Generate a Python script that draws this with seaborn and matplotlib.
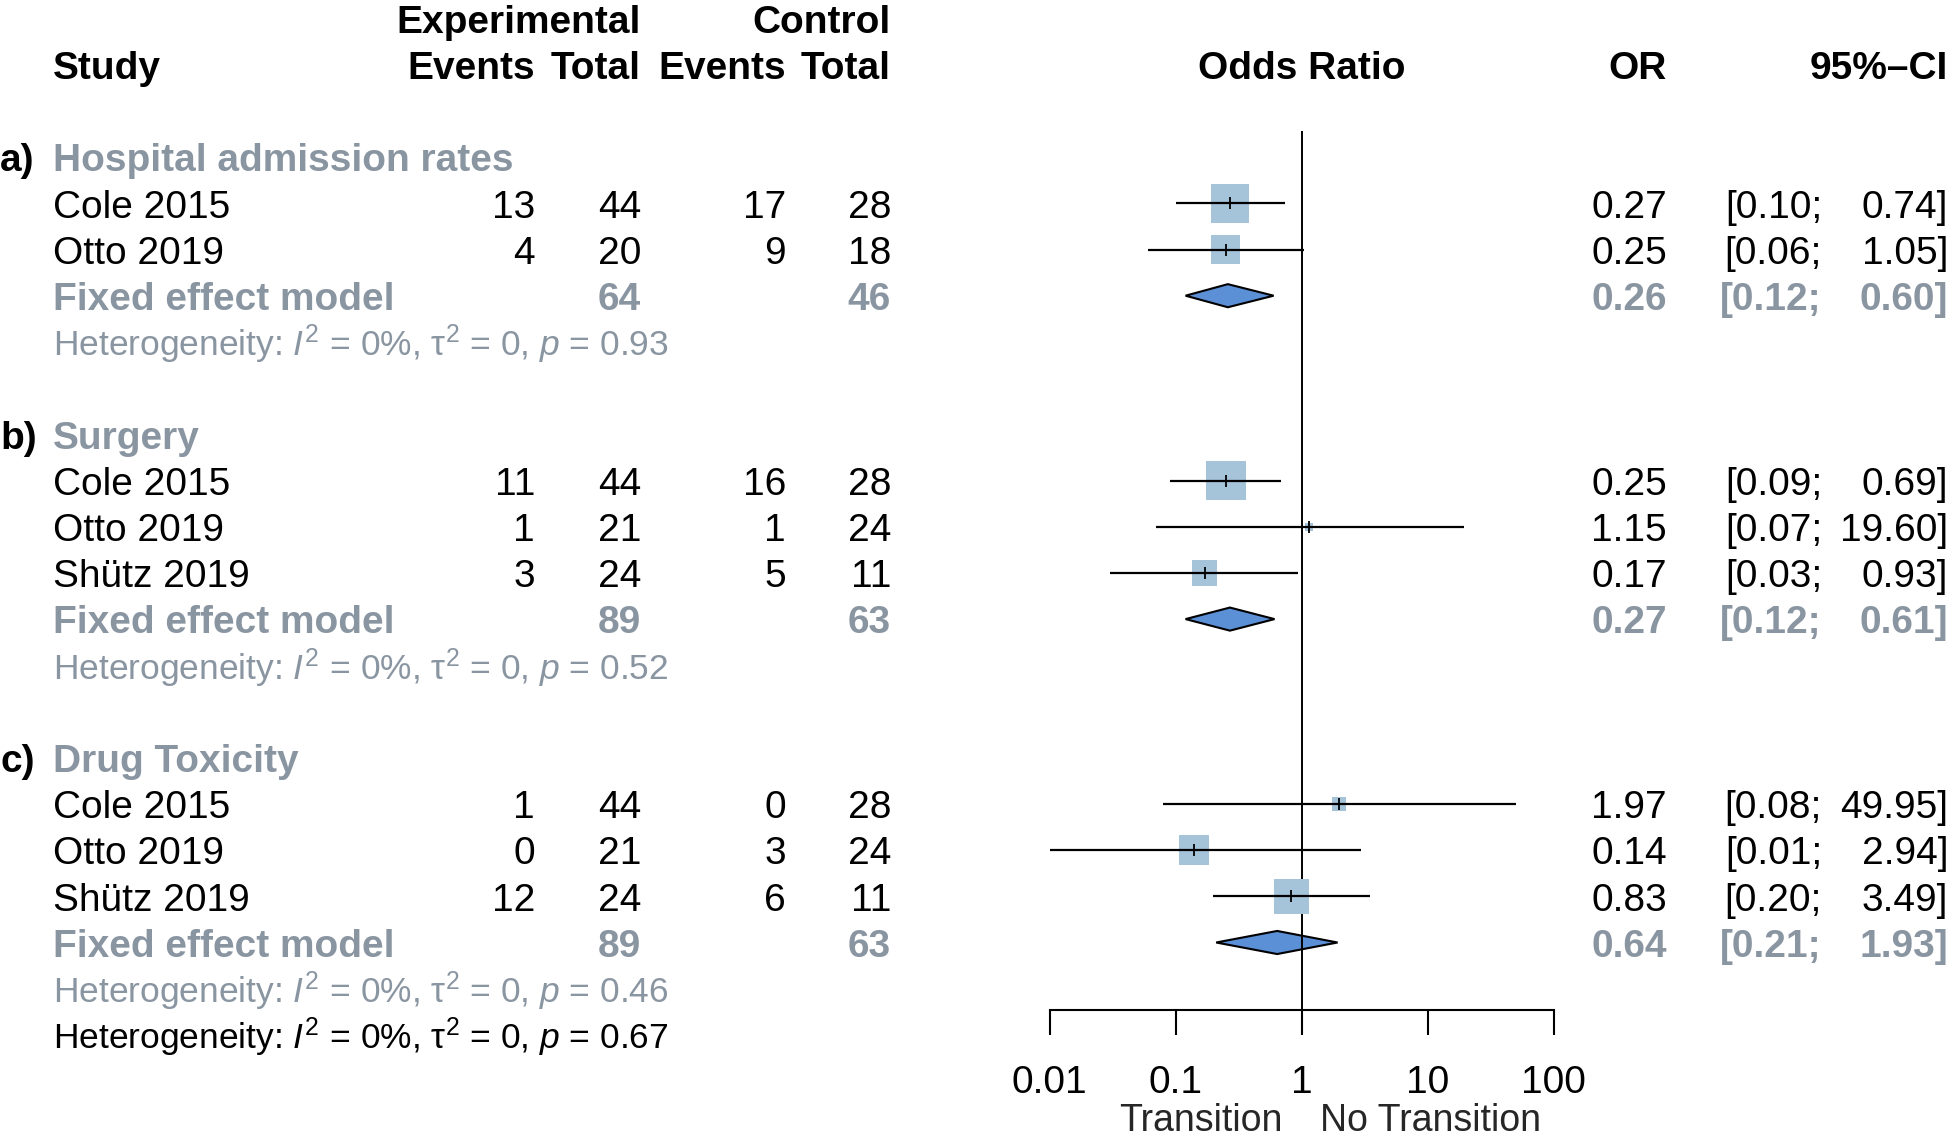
import numpy as np
import matplotlib
matplotlib.use('Agg')
import matplotlib.pyplot as plt
import seaborn as sns

# study level data
study_group = [0, 0, 1, 1, 1, 2, 2, 2]
study_label = ['Cole 2015', 'Otto 2019',
               'Cole 2015', 'Otto 2019', 'Shütz 2019',
               'Cole 2015', 'Otto 2019', 'Shütz 2019']
exp_events = [13, 4, 11, 1, 3, 1, 0, 12]
exp_total = [44, 20, 44, 21, 24, 44, 21, 24]
ctrl_events = [17, 9, 16, 1, 5, 0, 3, 6]
ctrl_total = [28, 18, 28, 24, 11, 28, 24, 11]
odds_ratio = [0.27, 0.25, 0.25, 1.15, 0.17, 1.97, 0.14, 0.83]
ci_low = [0.10, 0.06, 0.09, 0.07, 0.03, 0.08, 0.0068, 0.20]
ci_high = [0.74, 1.05, 0.69, 19.60, 0.93, 49.95, 2.94, 3.49]
weight = [64.9, 35.1, 69.4, 2.8, 27.8, 8.3, 39.6, 52.1]  # % within subgroup (approx)

# subgroup data
group_tag = ['a)', 'b)', 'c)']
group_name = ['Hospital admission rates', 'Surgery', 'Drug Toxicity']
pooled_exp_total = [64, 89, 89]
pooled_ctrl_total = [46, 63, 63]
pooled_or = [0.26, 0.27, 0.64]
pooled_low = [0.12, 0.12, 0.21]
pooled_high = [0.60, 0.61, 1.93]
het_p = ['0.93', '0.52', '0.46']
overall_het_p = '0.67'

axis_ticks = [0.01, 0.1, 1, 10, 100]
axis_ticklabels = ['0.01', '0.1', '1', '10', '100']
label_left = 'Transition'
label_right = 'No Transition'

# styling
FONT = ['Liberation Sans', 'DejaVu Sans']
GRAY = '#8A95A2'
SQUARE = '#A5C3D9'
DIAMOND = '#5B8FD6'
FS = 28
FS_SMALL = 25.5
BASE = 0.31          # baseline offset of a text row (in rows)

sns.set_theme(style='white')
plt.rcParams['font.family'] = FONT
plt.rcParams['mathtext.fontset'] = 'custom'
plt.rcParams['mathtext.rm'] = 'Liberation Sans'
plt.rcParams['mathtext.it'] = 'Liberation Sans:italic'
plt.rcParams['mathtext.bf'] = 'Liberation Sans:bold'

W, H = 1952, 1140
ROW0_PX, ROW_PX = 64.7, 46.2
y_top = -ROW0_PX / ROW_PX
y_bot = (H - ROW0_PX) / ROW_PX

fig = plt.figure(figsize=(W / 100, H / 100), dpi=100)
ax = fig.add_axes([0, 0, 1, 1])
ax.set_xlim(0, W)
ax.set_ylim(y_bot, y_top)
ax.axis('off')

# forest panel: log scale from 0.01 to 100
fx0, fx1 = 1049.5, 1553.7
axf = fig.add_axes([fx0 / W, 0, (fx1 - fx0) / W, 1])
axf.patch.set_visible(False)
axf.set_xscale('log')
axf.set_xlim(0.01, 100)
axf.set_ylim(y_bot, y_top)


def txt(x, row, s, ha='left', bold=False, color='black', size=FS, target=None):
    (target or ax).text(x, row + BASE, s, ha=ha, va='baseline', fontsize=size,
                        fontweight='bold' if bold else 'normal', color=color)


# column positions (px)
X_STUDY, X_EE, X_ET, X_CE, X_CT = 53, 535, 641, 786, 891
X_OR, X_LO, X_HI = 1667, 1822, 1948

# header
txt(X_ET, -1, 'Experimental', ha='right', bold=True)
txt(X_CT, -1, 'Control', ha='right', bold=True)
txt(X_STUDY, 0, 'Study', bold=True)
txt(X_EE, 0, 'Events', ha='right', bold=True)
txt(X_ET, 0, 'Total', ha='right', bold=True)
txt(X_CE, 0, 'Events', ha='right', bold=True)
txt(X_CT, 0, 'Total', ha='right', bold=True)
txt(1, 0, 'Odds Ratio', ha='center', bold=True, target=axf)
txt(X_OR, 0, 'OR', ha='right', bold=True)
txt(X_HI, 0, '95%–CI', ha='right', bold=True)

# lay out rows
study_rows = []
pooled_rows = []
row = 2
for g in range(len(group_name)):
    txt(0, row, group_tag[g], bold=True)
    txt(X_STUDY, row, group_name[g], bold=True, color=GRAY)
    row += 1
    for i in [k for k in range(len(study_label)) if study_group[k] == g]:
        study_rows.append(row)
        txt(X_STUDY, row, study_label[i])
        txt(X_EE, row, str(exp_events[i]), ha='right')
        txt(X_ET, row, str(exp_total[i]), ha='right')
        txt(X_CE, row, str(ctrl_events[i]), ha='right')
        txt(X_CT, row, str(ctrl_total[i]), ha='right')
        txt(X_OR, row, f'{odds_ratio[i]:.2f}', ha='right')
        txt(X_LO, row, f'[{ci_low[i]:.2f};', ha='right')
        txt(X_HI, row, f'{ci_high[i]:.2f}]', ha='right')
        row += 1
    pooled_rows.append(row)
    txt(X_STUDY, row, 'Fixed effect model', bold=True, color=GRAY)
    txt(X_ET, row, str(pooled_exp_total[g]), ha='right', bold=True, color=GRAY)
    txt(X_CT, row, str(pooled_ctrl_total[g]), ha='right', bold=True, color=GRAY)
    txt(X_OR, row, f'{pooled_or[g]:.2f}', ha='right', bold=True, color=GRAY)
    txt(X_LO, row, f'[{pooled_low[g]:.2f};', ha='right', bold=True, color=GRAY)
    txt(X_HI, row, f'{pooled_high[g]:.2f}]', ha='right', bold=True, color=GRAY)
    row += 1
    txt(X_STUDY, row, r'Heterogeneity: $I^2$ = 0%, $\mathrm{\tau}^2$ = 0, $p$ = ' + het_p[g],
        color=GRAY, size=FS_SMALL)
    row += 2
txt(X_STUDY, row - 1, r'Heterogeneity: $I^2$ = 0%, $\mathrm{\tau}^2$ = 0, $p$ = ' + overall_het_p,
    size=FS_SMALL)

AXIS_ROW = 20.46
REF_TOP = 1.43

# reference line
axf.vlines(1, REF_TOP, AXIS_ROW, color='black', lw=1.4, zorder=2.5)

# weighted squares (side in px ~ 4.8 * sqrt(weight))
side_pt = 4.8 * np.sqrt(weight) * 0.72
sns.scatterplot(x=odds_ratio, y=study_rows, s=side_pt ** 2, marker='s', color=SQUARE,
                linewidth=0, ax=axf, legend=False, zorder=3)
axf.hlines(study_rows, ci_low, ci_high, color='black', lw=1.6, zorder=4)
axf.plot(odds_ratio, study_rows, ls='none', marker='|', ms=8, mew=1.3, color='black', zorder=5)

# pooled diamonds
for g in range(len(pooled_or)):
    r = pooled_rows[g]
    axf.fill([pooled_low[g], pooled_or[g], pooled_high[g], pooled_or[g]],
             [r, r - 0.25, r, r + 0.25], facecolor=DIAMOND, edgecolor='black', lw=1.5, zorder=2)

# x axis
for s in ['top', 'left', 'right']:
    axf.spines[s].set_visible(False)
axf.spines['bottom'].set_position(('data', AXIS_ROW))
axf.spines['bottom'].set_color('black')
axf.spines['bottom'].set_linewidth(1.5)
axf.set_xticks(axis_ticks)
axf.set_xticklabels(axis_ticklabels)
axf.minorticks_off()
axf.set_yticks([])
axf.tick_params(axis='x', direction='out', length=17.8, width=1.5, pad=22,
                labelsize=28, colors='black', bottom=True)

label_row = (1131 - ROW0_PX) / ROW_PX
ax.text(1282, label_row, label_left, ha='right', va='baseline', fontsize=27)
ax.text(1320, label_row, label_right, ha='left', va='baseline', fontsize=27)

fig.savefig('out.png', dpi=100)
